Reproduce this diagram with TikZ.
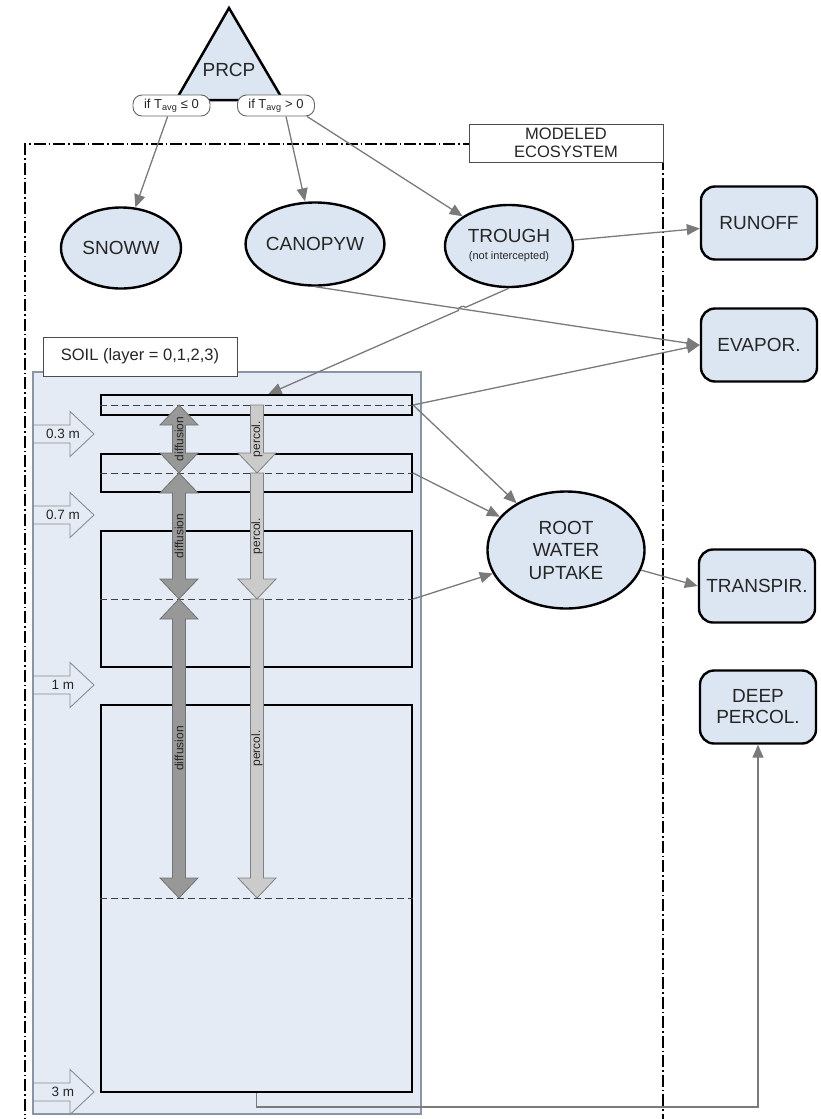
\documentclass[tikz,border=0pt]{standalone}
\usepackage{fontspec}
\setmainfont{Liberation Sans}
\usetikzlibrary{positioning, arrows.meta, shapes.geometric, calc}
\definecolor{poolblue}{HTML}{DCE6F2}
\definecolor{soilblue}{HTML}{E5EBF5}
\definecolor{soiledge}{HTML}{8A96A6}
\definecolor{flowgray}{HTML}{7A7A7A}
\definecolor{diffgray}{HTML}{989898}
\definecolor{percgray}{HTML}{CBCBCB}
\definecolor{inkgray}{HTML}{262626}

\begin{document}
\begin{tikzpicture}[x=1pt, y=-1pt,
    every node/.style={text=inkgray},
    mainfont/.style={font=\fontsize{19}{21}\selectfont},
    pool/.style={ellipse, draw=black, line width=2.4pt, fill=poolblue, inner sep=0pt, mainfont, align=center},
    sink/.style={draw=black, line width=2.4pt, fill=poolblue, rounded corners=14pt,
      minimum width=116pt, minimum height=73pt, mainfont, align=center},
    pill/.style={draw=black!60, line width=0.9pt, fill=white, rounded corners=9pt,
      minimum width=77pt, minimum height=21pt, inner sep=0pt, font=\fontsize{13}{14}\selectfont},
    tag/.style={draw=black!70, line width=0.9pt, fill=white, inner sep=0pt,
      font=\fontsize{16.5}{18}\selectfont, align=center},
    layerbox/.style={draw=black, line width=2.2pt, minimum width=311pt, inner sep=0pt},
    midline/.style={draw=black!75, line width=0.9pt, dash pattern=on 7pt off 4pt},
    flow/.style={draw=flowgray, color=flowgray, line width=1.3pt, -{Triangle[length=13pt,width=11pt]}},
    depthbox/.style={draw=black!45, line width=0.9pt},
    diffarrow/.style={draw=black!55, fill=diffgray, line width=0.8pt},
    percarrow/.style={draw=black!50, fill=percgray, line width=0.8pt},
    flowlbl/.style={font=\fontsize{12}{13}\selectfont, inner sep=0.5pt},
  ]
  \useasboundingbox (0,0) rectangle (820,1119);

  % modeled ecosystem frame
  \draw[line width=1.2pt, dash pattern=on 12pt off 3pt on 1.5pt off 3pt]
    (25,1130) -- (25,144) -- (663,144) -- (663,1130);
  \node[tag, minimum width=194pt, minimum height=38pt] (eco) at (566,143) {MODELED\\ECOSYSTEM};

  % precipitation
  \draw[line width=2.5pt, fill=poolblue] (229,8) -- (283,100) -- (176,100) -- cycle;
  \node[mainfont] (prcp) at (229,70) {PRCP};
  \node[pill] (lpill) at (171.5,105.5) {if T\textsubscript{avg} ≤ 0};
  \node[pill] (rpill) at (276,105.5) {if T\textsubscript{avg} > 0};

  % pools
  \node[pool, minimum width=120pt, minimum height=81pt] (snow) at (121,248) {SNOWW};
  \node[pool, minimum width=129pt, minimum height=83pt] (canopy) at (315,244) {CANOPYW};
  \node[pool, minimum width=128pt, minimum height=82pt] (trough) at (509,246)
    {TROUGH\\[-4pt]{\fontsize{11}{12}\selectfont(not intercepted)}};
  \node[pool, minimum width=157pt, minimum height=117pt, font=\fontsize{19}{22.5}\selectfont]
    (root) at (566,550) {ROOT\\WATER\\UPTAKE};

  % sinks
  \node[sink] (runoff) at (759,223) {RUNOFF};
  \node[sink] (evap) at (759,345) {EVAPOR.};
  \node[sink] (transp) at (757,586) {TRANSPIR.};
  \node[sink] (deep) at (758,707) {DEEP\\PERCOL.};

  % soil
  \draw[draw=soiledge, fill=soilblue, line width=1.3pt] (33,372) rectangle (421,1114);
  \node[tag, minimum width=194pt, minimum height=39pt] (soil) at (140,356.5) {SOIL (layer = 0,1,2,3)};
  \foreach \n/\ytop/\ybot in {0/395/415, 1/454/492, 2/531/667, 3/705/1092} {
    \node[layerbox, minimum height=\ybot-\ytop] (l\n) at (256.5,{(\ytop+\ybot)/2}) {};
    \draw[midline] (l\n.west) -- (l\n.east);
  }
  \foreach \yy/\dlab in {434/0.3 m, 515/0.7 m, 685/1 m, 1092/3 m} {
    \draw[depthbox] (33,\yy-9) -- (70,\yy-9) -- (70,\yy-22.5) -- (94,\yy)
      -- (70,\yy+22.5) -- (70,\yy+9) -- (33,\yy+9);
    \node[flowlbl, font=\fontsize{13.5}{14}\selectfont] (d\yy) at (63,\yy) {\dlab};
  }
  \foreach \ya/\yb/\k in {405/473/a, 473/599/b, 599/898/c} {
    \draw[diffarrow] (179,\ya) -- (198,\ya+20) -- (185.5,\ya+20) -- (185.5,\yb-20)
      -- (198,\yb-20) -- (179,\yb) -- (160,\yb-20) -- (172.5,\yb-20)
      -- (172.5,\ya+20) -- (160,\ya+20) -- cycle;
    \node[flowlbl, rotate=90, fill=diffgray] (diff\k) at (179,{(\ya+\yb)/2}) {diffusion};
    \draw[percarrow] (250.5,\ya) -- (263.5,\ya) -- (263.5,\yb-20) -- (276,\yb-20)
      -- (257,\yb) -- (238,\yb-20) -- (250.5,\yb-20) -- cycle;
    \node[flowlbl, rotate=90, fill=percgray] (perc\k) at (257,{(\ya+\yb)/2}) {percol.};
  }

  % fluxes
  \draw[flow] (lpill) -- (snow);
  \draw[flow] ([xshift=10pt]rpill.south) -- ([xshift=-10pt]canopy.north);
  \draw[flow] ([xshift=31pt]rpill.south) -- (trough);
  \draw[flow] (trough) -- (runoff);
  \draw[flow] (canopy.south) -- (evap.west);
  \draw[flow] (l0.east) -- (evap.west);
  \coordinate (l0in) at ([xshift=12pt]l0.north);
  \coordinate (jump) at (intersection of trough.south--l0in and canopy.south--evap.west);
  \draw[flow] (trough.south) -- ($(jump)!4pt!(trough.south)$) to[bend right=90]
    ($(jump)!4pt!(l0in)$) -- (l0in);
  \foreach \n in {0,1,2}
    \draw[flow] (l\n.east) -- (root);
  \draw[flow] (root.-15) -- (transp.west);
  \draw[flow] (l3.south) -- ++(0,14) -| (deep.south);
\end{tikzpicture}
\end{document}
